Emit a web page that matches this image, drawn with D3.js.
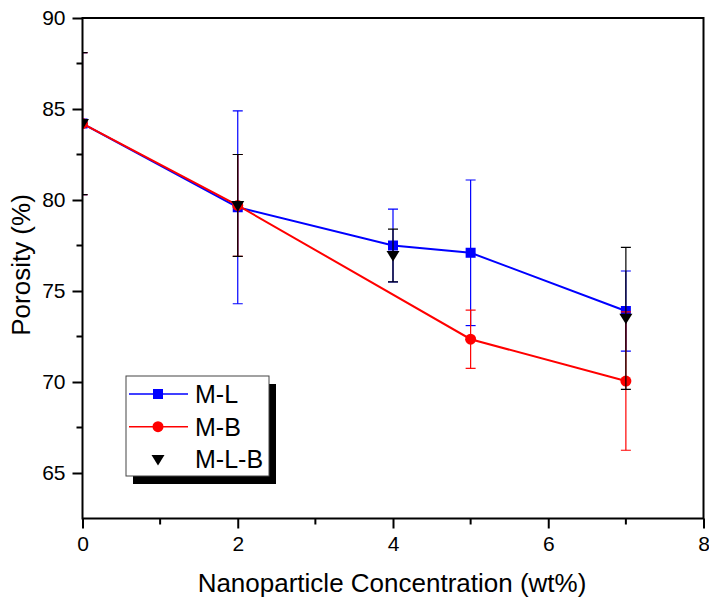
<!DOCTYPE html>
<html>
<head>
<meta charset="utf-8">
<script src="https://cdn.jsdelivr.net/npm/d3@7"></script>
<style>
  html, body { margin: 0; padding: 0; background: #fff; }
  svg { display: block; font-family: "Liberation Sans", Arial, sans-serif; }
</style>
</head>
<body>
<svg id="chart" width="709" height="600"></svg>
<script>
// Data
const xTicks = [0, 2, 4, 6, 8];
const yTicks = [65, 70, 75, 80, 85, 90];

const mlX = [0, 2, 4, 5, 7];
const mlY = [84.2, 79.6, 77.5, 77.1, 73.9];
const mlErr = [3.9, 5.3, 2.0, 4.0, 2.2];

const mbX = [0, 2, 5, 7];
const mbY = [84.2, 79.7, 72.35, 70.05];
const mbErr = [3.9, 2.8, 1.6, 3.8];

const mlbX = [0, 2, 4, 7];
const mlbY = [84.2, 79.7, 76.95, 73.5];
const mlbErr = [3.9, 2.8, 1.45, 3.9];

const seriesNames = ['M-L', 'M-B', 'M-L-B'];

// Layout
const FONT = '"Liberation Sans", Arial, sans-serif';
const plot = { left: 82.5, right: 703.5, top: 18, bottom: 518.5 };

const svg = d3.select('#chart');

const x = d3.scaleLinear().domain([0, 8]).range([plot.left, plot.right]);
const y = d3.scaleLinear().domain([62.5, 90]).range([plot.bottom, plot.top]);

// Clip for data marks
svg.append('defs').append('clipPath').attr('id', 'plotClip')
  .append('rect')
  .attr('x', plot.left).attr('y', plot.top)
  .attr('width', plot.right - plot.left).attr('height', plot.bottom - plot.top);

const series = [
  { name: seriesNames[0], xs: mlX, ys: mlY, err: mlErr, color: '#0000ff', shape: 'square', line: true },
  { name: seriesNames[1], xs: mbX, ys: mbY, err: mbErr, color: '#ff0000', shape: 'circle', line: true },
  { name: seriesNames[2], xs: mlbX, ys: mlbY, err: mlbErr, color: '#000000', shape: 'triangle', line: false }
];

function markerPath(shape) {
  if (shape === 'square') return d3.symbol(d3.symbolSquare, 100)();
  if (shape === 'circle') return d3.symbol(d3.symbolCircle, 95)();
  return 'M-6.5,-4.5L6.5,-4.5L0,6Z';
}

const data = svg.append('g').attr('clip-path', 'url(#plotClip)');

series.forEach(s => {
  const g = data.append('g');
  const pts = s.xs.map((v, i) => ({ x: v, y: s.ys[i], e: s.err[i] }));

  // error bars
  const eb = g.append('g').attr('stroke', s.color).attr('stroke-width', 1.2);
  pts.forEach(p => {
    const cx = x(p.x);
    eb.append('line').attr('x1', cx).attr('x2', cx)
      .attr('y1', y(p.y + p.e)).attr('y2', y(p.y - p.e));
    [p.y + p.e, p.y - p.e].forEach(v => {
      eb.append('line').attr('x1', cx - 5).attr('x2', cx + 5)
        .attr('y1', y(v)).attr('y2', y(v));
    });
  });

  if (s.line) {
    g.append('path')
      .datum(pts)
      .attr('fill', 'none')
      .attr('stroke', s.color)
      .attr('stroke-width', 2)
      .attr('d', d3.line().x(d => x(d.x)).y(d => y(d.y)));
  }

  g.selectAll('path.marker')
    .data(pts)
    .join('path')
    .attr('class', 'marker')
    .attr('transform', d => `translate(${x(d.x)},${y(d.y)})`)
    .attr('d', markerPath(s.shape))
    .attr('fill', s.color);
});

// Axes
const xAxis = d3.axisBottom(x).tickValues(xTicks).tickSize(10).tickPadding(8).tickFormat(d3.format('d'));
const yAxis = d3.axisLeft(y).tickValues(yTicks).tickSize(10).tickPadding(7).tickFormat(d3.format('d'));

const gx = svg.append('g').attr('transform', `translate(0,${plot.bottom})`).call(xAxis);
const gy = svg.append('g').attr('transform', `translate(${plot.left},0)`).call(yAxis);

// Minor ticks
const xMinor = [1, 3, 5, 7];
const yMinor = [67.5, 72.5, 77.5, 82.5, 87.5];
gx.selectAll('line.minor').data(xMinor).join('line').attr('class', 'minor')
  .attr('x1', d => x(d)).attr('x2', d => x(d)).attr('y1', 0).attr('y2', 6)
  .attr('stroke', '#000').attr('stroke-width', 2);
gy.selectAll('line.minor').data(yMinor).join('line').attr('class', 'minor')
  .attr('y1', d => y(d)).attr('y2', d => y(d)).attr('x1', 0).attr('x2', -6)
  .attr('stroke', '#000').attr('stroke-width', 2);

[gx, gy].forEach(g => {
  g.select('.domain').remove();
  g.selectAll('.tick line').attr('stroke', '#000').attr('stroke-width', 2);
  g.selectAll('.tick text').attr('fill', '#000').attr('font-size', 21).attr('font-family', FONT);
});

// Frame
svg.append('rect')
  .attr('x', plot.left).attr('y', plot.top)
  .attr('width', plot.right - plot.left).attr('height', plot.bottom - plot.top)
  .attr('fill', 'none').attr('stroke', '#000').attr('stroke-width', 2);

// Axis titles
svg.append('text')
  .attr('x', 392)
  .attr('y', 592)
  .attr('text-anchor', 'middle')
  .attr('font-size', 26)
  .attr('font-family', FONT)
  .text('Nanoparticle Concentration (wt%)');

svg.append('text')
  .attr('transform', `translate(30,265) rotate(-90)`)
  .attr('text-anchor', 'middle')
  .attr('font-size', 26)
  .attr('font-family', FONT)
  .text('Porosity (%)');

// Legend
const lg = { x: 126, y: 376, w: 143, h: 100 };
svg.append('rect')
  .attr('x', lg.x + 7).attr('y', lg.y + 8).attr('width', lg.w).attr('height', lg.h)
  .attr('fill', '#000');
svg.append('rect')
  .attr('x', lg.x).attr('y', lg.y).attr('width', lg.w).attr('height', lg.h)
  .attr('fill', '#fff').attr('stroke', '#444').attr('stroke-width', 1);

series.forEach((s, i) => {
  const ry = lg.y + 18 + i * 32.7;
  const row = svg.append('g');
  if (s.line) {
    row.append('line').attr('x1', lg.x + 3).attr('x2', lg.x + 62)
      .attr('y1', ry).attr('y2', ry).attr('stroke', s.color).attr('stroke-width', 1.5);
  }
  row.append('path')
    .attr('transform', `translate(${lg.x + 32},${ry})`)
    .attr('d', markerPath(s.shape))
    .attr('fill', s.color);
  row.append('text')
    .attr('x', lg.x + 69).attr('y', ry + 9)
    .attr('font-size', 25).attr('font-family', FONT)
    .text(s.name);
});
</script>
</body>
</html>
